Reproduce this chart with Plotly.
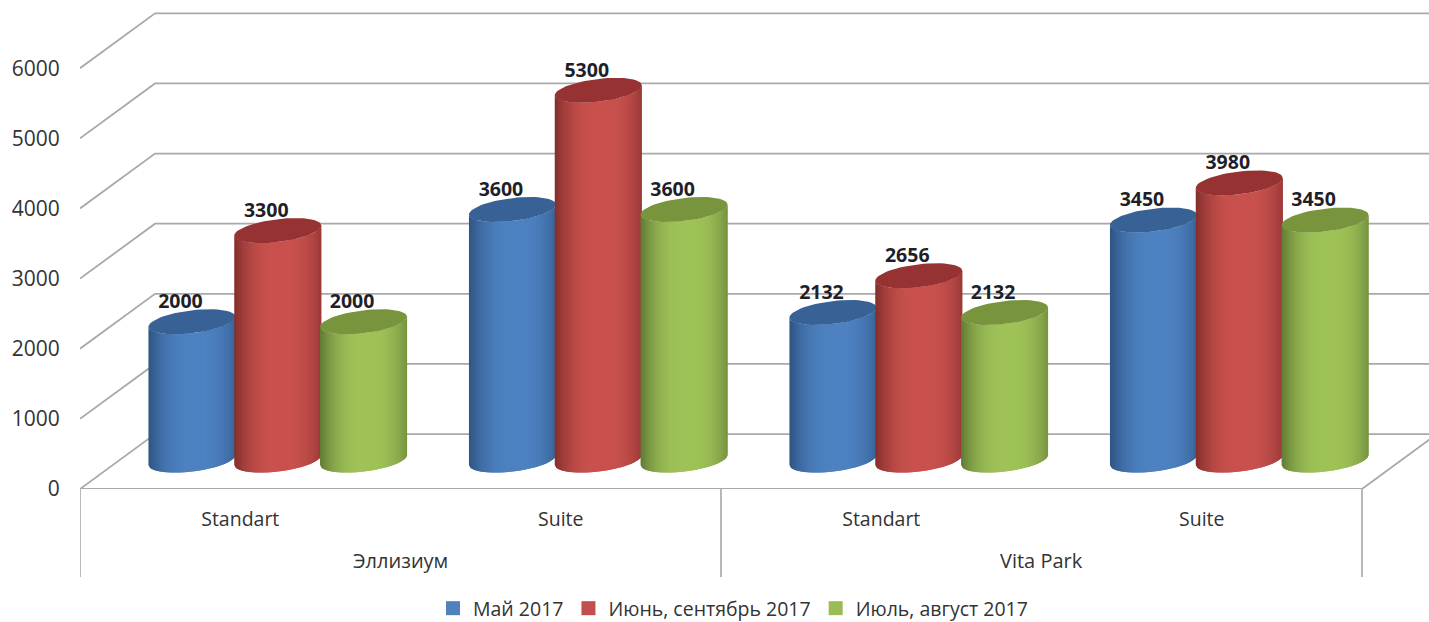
import numpy as np
import plotly.graph_objects as go

# ---- data ----
categories = ["Standart", "Suite", "Standart", "Suite"]
hotels = ["Эллизиум", "Vita Park"]
series_names = ["Май 2017", "Июнь, сентябрь 2017", "Июль, август 2017"]
may_2017 = [2000, 3600, 2132, 3450]
june_sept_2017 = [3300, 5300, 2656, 3980]
july_aug_2017 = [2000, 3600, 2132, 3450]
y_ticks = [0, 1000, 2000, 3000, 4000, 5000, 6000]

# ---- styling / geometry (pixel sizes converted to axis units) ----
W, H = 1429, 622
PX_X = 320.5            # pixels per category
PX_Y = 0.0702           # pixels per value unit
ZERO_PX = 489.5
LEFT_PX = 80
to_x = lambda px: px / PX_X
to_y = lambda px: px / PX_Y

depth_x, depth_y = to_x(75), to_y(55)
slot = to_x(85.8)
radius_x = to_x(43.5)
radius_y = to_y(11.5)
shear = (5.0 / 43.5)     # tilt of the ellipses (px/px)
BASE_SHIFT = to_y(1.5)
TOP_SHIFT = to_y(2)

palette = [
    dict(centre=(78, 130, 194), edge=(46, 84, 130), cap=(56, 98, 150), key="#4f81bd"),
    dict(centre=(202, 82, 78), edge=(130, 46, 44), cap=(150, 50, 50), key="#c0504d"),
    dict(centre=(160, 195, 88), edge=(96, 122, 52), cap=(120, 148, 60), key="#9bbb59"),
]
GRID = "#a9a9a9"
TEXT = "#333333"
FONT = "Open Sans"

fig = go.Figure()

# back wall / floor grid lines
gx, gy = [], []
x_left = -0.5
x_right = 3.5
for v in y_ticks:
    gx += [x_left, x_left + depth_x, x_right + depth_x, None]
    gy += [v, v + depth_y, v + depth_y, None]
gx += [x_left, x_right, x_right + depth_x, None]
gy += [0, 0, depth_y, None]
fig.add_trace(go.Scatter(x=gx, y=gy, mode="lines", line=dict(color=GRID, width=1.8),
                         showlegend=False, hoverinfo="skip"))

# category separators (below the plot area, so paper-referenced in y)
plot_h = ZERO_PX
for xv in (-0.5, 1.5, 3.5):
    fig.add_shape(type="line", xref="x", yref="paper", x0=xv, x1=xv, y0=0, y1=-88 / plot_h,
                  line=dict(color="#9a9a9a", width=1.4))

all_series = [may_2017, june_sept_2017, july_aug_2017]
N = 40
ts = np.linspace(-1, 1, N + 1)


def shade(p, t):
    k = 1 - min(1.0, abs(t - 0.08) / 1.08) ** 2.6
    c = [p["edge"][i] + (p["centre"][i] - p["edge"][i]) * k for i in range(3)]
    return "rgb(%d,%d,%d)" % tuple(c)


def arc(cx, base, t0, t1, n=4):
    t = np.linspace(t0, t1, n)
    x = cx + radius_x * t
    y = base + shear * to_y(PX_X * radius_x) * t - radius_y * np.sqrt(np.clip(1 - t * t, 0, 1))
    return x, y


for s, (name, vals, p) in enumerate(zip(series_names, all_series, palette)):
    offs = [i + depth_x / 2 + (s - 1) * slot for i in range(len(vals))]
    base = depth_y / 2 + BASE_SHIFT
    # cylinder body, built from overlapping shaded vertical strips
    for j in range(N):
        t0, t1 = ts[j], min(1.0, ts[j + 1] + 0.05)
        tm = (ts[j] + ts[j + 1]) / 2
        px, py = [], []
        for cx, v in zip(offs, vals):
            xb, yb = arc(cx, base, t0, t1)
            xt, yt = arc(cx, base + v - TOP_SHIFT, t1, t0)
            px += list(xb) + list(xt) + [xb[0], None]
            py += list(yb) + list(yt) + [yb[0], None]
        fig.add_trace(go.Scatter(x=px, y=py, mode="lines", fill="toself",
                                 fillcolor=shade(p, tm), line=dict(width=0),
                                 showlegend=False, hoverinfo="skip"))
    # top ellipse
    th = np.linspace(0, 2 * np.pi, 61)
    cxs, cys = [], []
    for cx, v in zip(offs, vals):
        ex = radius_x * np.cos(th)
        ey = shear * to_y(PX_X * ex) + radius_y * np.sin(th)
        cxs += list(cx + ex) + [None]
        cys += list(base + v - TOP_SHIFT + ey) + [None]
    fig.add_trace(go.Scatter(x=cxs, y=cys, mode="lines", fill="toself",
                             fillcolor="rgb(%d,%d,%d)" % p["cap"], line=dict(width=0),
                             showlegend=False, hoverinfo="skip"))

# value labels
for s, vals in enumerate(all_series):
    offs = [i + depth_x / 2 + (s - 1) * slot - to_x(11.5) for i in range(len(vals))]
    fig.add_trace(go.Scatter(
        x=offs, y=[v + depth_y / 2 + to_y(18) for v in vals],
        mode="text", text=[str(v) for v in vals], textposition="middle center",
        textfont=dict(family=FONT, size=19.5, color="#1f1f2a", weight="bold"),
        showlegend=False, hoverinfo="skip", cliponaxis=False))

# legend entries
for name, p in zip(series_names, palette):
    fig.add_trace(go.Scatter(x=[None], y=[None], mode="markers", name=name,
                             marker=dict(symbol="square", size=14, color=p["key"])))

# hotel labels under the categories
for hotel, xv in zip(hotels, (0.5, 2.5)):
    fig.add_annotation(x=xv, xref="x", y=-(561 - ZERO_PX) / plot_h, yref="paper", yanchor="middle",
                       text=hotel, showarrow=False,
                       font=dict(family=FONT, size=20, color=TEXT))

fig.update_layout(
    width=W, height=H,
    margin=dict(l=LEFT_PX, r=0, t=0, b=H - ZERO_PX, pad=0),
    paper_bgcolor="white", plot_bgcolor="white",
    showlegend=True,
    legend=dict(orientation="h", x=733 / W, xref="container", xanchor="center",
                y=13.5 / H, yref="container", yanchor="middle",
                font=dict(family=FONT, size=19.5, color=TEXT), itemwidth=30),
    xaxis=dict(range=[-0.5, (W - 240.25) / PX_X], tickmode="array",
               tickvals=list(range(len(categories))), ticktext=categories,
               ticks="outside", ticklen=13, tickcolor="rgba(0,0,0,0)",
               tickfont=dict(family=FONT, size=19.5, color=TEXT),
               showgrid=False, zeroline=False, showline=False),
    yaxis=dict(range=[0, to_y(ZERO_PX)], tickmode="array", tickvals=y_ticks,
               ticks="outside", ticklen=15, tickcolor="rgba(0,0,0,0)",
               tickfont=dict(family=FONT, size=21, color=TEXT),
               showgrid=False, zeroline=False, showline=False),
)

fig.write_html("out.html", config={"displayModeBar": False},
               post_script="document.body.style.margin='0';document.body.style.overflow='hidden';")
